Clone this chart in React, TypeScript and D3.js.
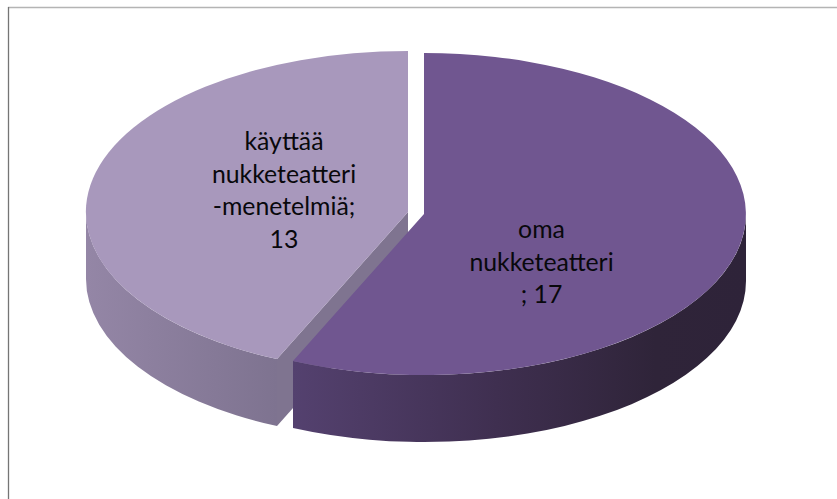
import React from "react";
import * as d3 from "d3";

const categories = ["oma nukketeatteri", "käyttää nukketeatteri-menetelmiä"];
const values = [17, 13];
const labelLines = [
  ["oma", "nukketeatteri", "; 17"],
  ["käyttää", "nukketeatteri", "-menetelmiä;", "13"],
];
const topColors = ["#705690", "#a898bc"];
const wallStops = [
  [
    ["0%", "#54416f"],
    ["45%", "#3f2f50"],
    ["80%", "#2f2439"],
    ["100%", "#2e2339"],
  ],
  [
    ["0%", "#9486a6"],
    ["100%", "#7e7390"],
  ],
];
const innerWall = "#7f7490";
const centers = [
  { cx: 424, cy: 214, labelX: 541.5, labelY: 238 },
  { cx: 408, cy: 212, labelX: 284, labelY: 150 },
];
const rx = 322;
const ry = 161;
const depth = 67;

function App() {
  const pie = d3.pie<number>().sort(null).startAngle(0).endAngle(2 * Math.PI);
  const arcs = pie(values);
  const lineHeight = 32.7;

  const pt = (i: number, a: number, dy = 0): [number, number] => [
    centers[i].cx + rx * Math.sin(a),
    centers[i].cy - ry * Math.cos(a) + dy,
  ];
  const fmt = (p: [number, number]) => `${p[0].toFixed(1)},${p[1].toFixed(1)}`;

  const topPath = (i: number) => {
    const { startAngle: s, endAngle: e } = arcs[i];
    const large = e - s > Math.PI ? 1 : 0;
    return `M${centers[i].cx},${centers[i].cy}L${fmt(pt(i, s))}A${rx},${ry} 0 ${large} 1 ${fmt(pt(i, e))}Z`;
  };

  // outer cylinder wall: the part of the rim in the front half of the ellipse
  const wallPath = (i: number) => {
    const { startAngle: s, endAngle: e } = arcs[i];
    const a0 = Math.max(s, Math.PI / 2);
    const a1 = Math.min(e, (3 * Math.PI) / 2);
    return `M${fmt(pt(i, a0))}A${rx},${ry} 0 0 1 ${fmt(pt(i, a1))}L${fmt(pt(i, a1, depth))}A${rx},${ry} 0 0 0 ${fmt(pt(i, a0, depth))}Z`;
  };

  // cut face of the rear slice, seen through the gap
  const cutPath = (i: number) => {
    const c = centers[i];
    const p = pt(i, arcs[i].startAngle);
    const p2 = pt(i, arcs[i].startAngle, depth);
    return `M${c.cx},${c.cy}L${fmt(p)}L${fmt(p2)}L${c.cx},${c.cy + depth}Z`;
  };

  const drawOrder = [1, 0];

  return (
    <svg
      width={837}
      height={499}
      style={{ position: "absolute", left: 0, top: 0, background: "#fff" }}
      fontFamily="Lato, 'Open Sans', sans-serif"
    >
      <defs>
        {wallStops.map((stops, i) => {
          const a0 = Math.max(arcs[i].startAngle, Math.PI / 2);
          const a1 = Math.min(arcs[i].endAngle, (3 * Math.PI) / 2);
          const xs = [pt(i, a0)[0], pt(i, a1)[0]];
          return (
            <linearGradient id={`wall${i}`} key={i} gradientUnits="userSpaceOnUse" x1={d3.min(xs)!} x2={d3.max(xs)!} y1={0} y2={0}>
              {stops.map(([o, c]) => (
                <stop key={o} offset={o} stopColor={c} />
              ))}
            </linearGradient>
          );
        })}
      </defs>

      <line x1={8} x2={837} y1={7.5} y2={7.5} stroke="#b4b4b4" strokeWidth={1.5} />
      <line x1={8.5} x2={8.5} y1={7} y2={499} stroke="#757575" strokeWidth={1.3} />

      {drawOrder.map((i) => (
        <g key={categories[i]}>
          {i === 1 && <path d={cutPath(i)} fill={innerWall} />}
          <path d={wallPath(i)} fill={`url(#wall${i})`} />
          <path d={topPath(i)} fill={topColors[i]} />
        </g>
      ))}

      {drawOrder.map((i) => (
        <text key={categories[i]} textAnchor="middle" fontSize={24.8} fill="#08080c">
          {labelLines[i].map((t, j) => (
            <tspan key={j} x={centers[i].labelX} y={centers[i].labelY + j * lineHeight}>
              {t}
            </tspan>
          ))}
        </text>
      ))}
    </svg>
  );
}

export default App;
